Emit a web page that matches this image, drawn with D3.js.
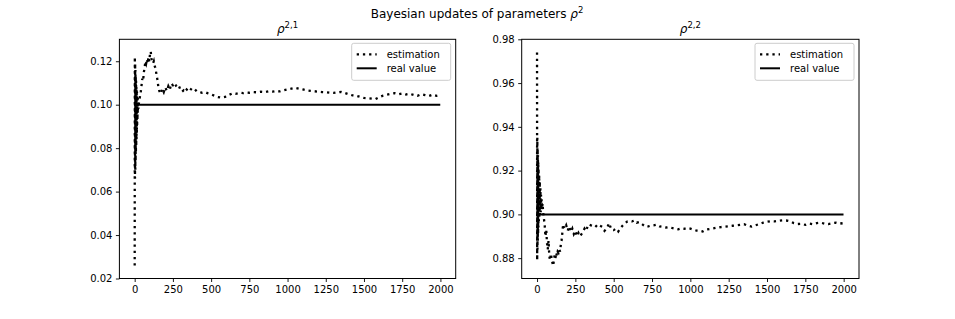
<!DOCTYPE html>
<html>
<head>
<meta charset="utf-8">
<script src="https://cdn.jsdelivr.net/npm/d3@7"></script>
<style>
  html, body { margin: 0; padding: 0; background: #fff; }
  svg { display: block; font-family: "DejaVu Sans", sans-serif; }
</style>
</head>
<body>
<svg id="chart" width="955" height="319"></svg>
<script>
// ---------------- data ----------------
const xTicks = [0, 250, 500, 750, 1000, 1250, 1500, 1750, 2000];
const yTicksLeft = [0.02, 0.04, 0.06, 0.08, 0.10, 0.12];
const yTicksRight = [0.88, 0.90, 0.92, 0.94, 0.96, 0.98];
const legendLabels = ["estimation", "real value"];
const realValueLeft = 0.10;
const realValueRight = 0.90;
const realRange = [0, 1999];

// rho^{2,1} estimation
const estLeftX = [0,1,2,3,4,5,6,7,8,9,10,11,12,13,14,15,16,17,18,19,20,22,24,26,28,30,
  35,40,45,50,55,60,65,70,75,80,85,90,95,100,105,110,115,120,125,130,135,140,145,150,155,
  160,170,180,190,200,210,220,230,240,250,260,270,280,290,300,310,320,330,340,350,360,375,390,405,
  420,440,460,480,500,520,540,560,580,600,620,640,660,690,710,730,750,775,800,825,850,875,900,925,950,975,
  1000,1025,1050,1075,1100,1125,1150,1175,1200,1225,1250,1275,1300,1325,1350,1375,1400,1425,1450,1475,
  1500,1525,1550,1575,1600,1625,1650,1675,1700,1725,1750,1775,1800,1825,1850,1875,1900,1925,1950,1975,1999];
const estLeftY = [0.026,0.122,0.066,0.119,0.070,0.116,0.074,0.113,0.078,0.111,0.081,0.109,0.084,0.107,0.087,0.106,0.090,0.104,0.093,0.103,0.096,0.101,0.098,0.100,0.101,0.102,
  0.104,0.106,0.109,0.112,0.111,0.115,0.117,0.120,0.119,0.121,0.119,0.122,0.120,0.123,0.1245,0.121,0.120,0.119,0.120,0.118,0.117,0.115,0.113,0.111,0.108,
  0.1065,0.1050,0.1072,0.1058,0.1080,0.1063,0.1085,0.1070,0.1098,0.1090,0.1100,0.1088,0.1078,0.1085,0.1068,0.1060,0.1066,0.1058,0.1070,0.1064,0.1075,0.1068,0.1074,0.1062,
  0.1060,0.1055,0.1058,0.1052,0.1048,0.1042,0.1036,0.1033,0.1034,0.1037,0.1046,0.1052,0.1050,0.1055,0.1053,0.1056,0.1055,0.1058,0.1057,0.1060,0.1058,0.1062,0.1060,0.1063,0.1061,0.1066,
  0.1070,0.1074,0.1078,0.1074,0.1070,0.1066,0.1064,0.1062,0.1060,0.1058,0.1057,0.1055,0.1054,0.1057,0.1059,0.1054,0.1048,0.1043,0.1041,0.1036,
  0.1031,0.1030,0.1028,0.1026,0.1035,0.1042,0.1046,0.1050,0.1053,0.1048,0.1052,0.1047,0.1050,0.1045,0.1041,0.1048,0.1044,0.1040,0.1046,0.1041,0.1045];

// rho^{2,2} estimation
const estRightX = [0,1,2,3,4,5,6,7,8,9,10,12,14,16,18,20,22,24,26,28,30,33,36,
  40,45,50,55,60,65,70,75,80,85,90,95,100,105,110,115,120,125,130,135,140,145,150,155,160,165,170,175,
  180,190,200,210,220,230,240,250,260,270,280,290,300,310,320,330,340,350,365,380,395,410,425,440,455,470,485,
  500,515,530,545,560,575,590,605,620,635,650,665,680,695,710,725,740,760,780,800,820,840,860,880,900,920,940,960,980,
  1000,1020,1040,1060,1080,1100,1125,1150,1175,1200,1225,1250,1275,1300,1325,1350,1375,1400,1425,1450,1475,
  1500,1525,1550,1575,1600,1625,1650,1675,1700,1725,1750,1775,1800,1825,1850,1875,1900,1925,1950,1975,1999];
const estRightY = [0.974,0.879,0.935,0.884,0.930,0.888,0.927,0.891,0.924,0.894,0.921,0.897,0.918,0.899,0.915,0.900,0.912,0.901,0.909,0.902,0.907,0.903,0.905,
  0.901,0.898,0.895,0.890,0.893,0.887,0.884,0.888,0.881,0.879,0.882,0.880,0.878,0.8765,0.879,0.8815,0.880,0.8825,0.881,0.883,0.8825,0.884,0.883,0.886,0.888,0.8915,0.8955,0.894,
  0.8935,0.8950,0.8925,0.8945,0.8920,0.8935,0.8910,0.8925,0.8900,0.8915,0.8900,0.8910,0.8920,0.8935,0.8925,0.8945,0.8940,0.8950,0.8945,0.8950,0.8940,0.8948,0.8943,0.8925,0.8935,0.8960,0.8930,
  0.8928,0.8935,0.8922,0.8938,0.8950,0.8960,0.8968,0.8970,0.8968,0.8972,0.8962,0.8965,0.8958,0.8950,0.8943,0.8945,0.8948,0.8950,0.8953,0.8945,0.8943,0.8940,0.8942,0.8938,0.8935,0.8932,0.8936,0.8934,0.8938,
  0.8935,0.8930,0.8926,0.8925,0.8922,0.8930,0.8933,0.8936,0.8940,0.8942,0.8944,0.8946,0.8948,0.8950,0.8952,0.8955,0.8948,0.8944,0.8950,0.8956,0.8962,
  0.8966,0.8969,0.8968,0.8971,0.8973,0.8972,0.8968,0.8960,0.8956,0.8957,0.8952,0.8958,0.8955,0.8960,0.8962,0.8958,0.8956,0.8960,0.8962,0.8958,0.8960];

// ---------------- drawing ----------------
const svg = d3.select("#chart");

svg.append("text")
  .attr("x", 477).attr("y", 18)
  .attr("text-anchor", "middle")
  .style("font-size", "12px")
  .text("Bayesian updates of parameters ")
  .append("tspan").style("font-style", "italic").text("ρ")
  .select(function(){ return this.parentNode; })
  .append("tspan").attr("dy", -5).style("font-size", "8.5px").text("2");

function panel(cfg) {
  const { left, right, top, bottom, yDomain, yTicks, xs, ys, real, sup } = cfg;
  const x = d3.scaleLinear().domain([-100, 2100]).range([left, right]);
  const y = d3.scaleLinear().domain(yDomain).range([bottom, top]);
  const g = svg.append("g");

  // estimation (dotted)
  const pts = xs.map((d, i) => [d, ys[i]]);
  g.append("path")
    .datum(pts)
    .attr("fill", "none")
    .attr("stroke", "#000")
    .attr("stroke-width", 2.3)
    .attr("stroke-dasharray", "2.3,3.9")
    .attr("d", d3.line().x(d => x(d[0])).y(d => y(d[1])));

  // real value (solid)
  g.append("path")
    .datum(realRange.map(d => [d, real]))
    .attr("fill", "none")
    .attr("stroke", "#000")
    .attr("stroke-width", 2)
    .attr("d", d3.line().x(d => x(d[0])).y(d => y(d[1])));

  // axes
  const xa = g.append("g").attr("transform", `translate(0,${bottom})`)
    .call(d3.axisBottom(x).tickValues(xTicks).tickSize(3.5).tickPadding(3.5).tickFormat(d3.format("d")));
  const ya = g.append("g").attr("transform", `translate(${left},0)`)
    .call(d3.axisLeft(y).tickValues(yTicks).tickSize(3.5).tickPadding(3.5).tickFormat(d3.format(".2f")));
  [xa, ya].forEach(a => {
    a.select(".domain").remove();
    a.selectAll("text").style("font-size", "10px").style("font-family", "DejaVu Sans, sans-serif").attr("fill", "#000");
    a.selectAll("line").attr("stroke", "#000").attr("stroke-width", 0.9);
  });

  // spines
  g.append("rect")
    .attr("x", left).attr("y", top)
    .attr("width", right - left).attr("height", bottom - top)
    .attr("fill", "none").attr("stroke", "#000").attr("stroke-width", 1);

  // subplot title
  const t = g.append("text")
    .attr("x", (left + right) / 2).attr("y", top - 6)
    .attr("text-anchor", "middle")
    .style("font-size", "12px");
  t.append("tspan").style("font-style", "italic").text("ρ");
  t.append("tspan").attr("dy", -5).style("font-size", "8.5px").text(sup);

  // legend
  const lw = 99, lh = 37;
  const lx = right - 5 - lw, ly = top + 4;
  const lg = g.append("g");
  lg.append("rect")
    .attr("x", lx).attr("y", ly).attr("width", lw).attr("height", lh)
    .attr("rx", 2).attr("ry", 2)
    .attr("fill", "#fff").attr("fill-opacity", 0.8)
    .attr("stroke", "#cccccc").attr("stroke-width", 1);
  lg.append("line")
    .attr("x1", lx + 5).attr("x2", lx + 25)
    .attr("y1", ly + 11).attr("y2", ly + 11)
    .attr("stroke", "#000").attr("stroke-width", 2.3)
    .attr("stroke-dasharray", "2.3,3.9");
  lg.append("line")
    .attr("x1", lx + 5).attr("x2", lx + 25)
    .attr("y1", ly + 25).attr("y2", ly + 25)
    .attr("stroke", "#000").attr("stroke-width", 2);
  legendLabels.forEach((s, i) => {
    lg.append("text")
      .attr("x", lx + 35).attr("y", ly + 11 + i * 14)
      .attr("dy", "0.35em")
      .style("font-size", "10px")
      .text(s);
  });
}

panel({ left: 119.4, right: 455.7, top: 39.3, bottom: 278.5,
  yDomain: [0.0200, 0.1301], yTicks: yTicksLeft,
  xs: estLeftX, ys: estLeftY, real: realValueLeft, sup: "2,1" });
panel({ left: 521.7, right: 859, top: 39.3, bottom: 278.5,
  yDomain: [0.8707, 0.9800], yTicks: yTicksRight,
  xs: estRightX, ys: estRightY, real: realValueRight, sup: "2,2" });
</script>
</body>
</html>
